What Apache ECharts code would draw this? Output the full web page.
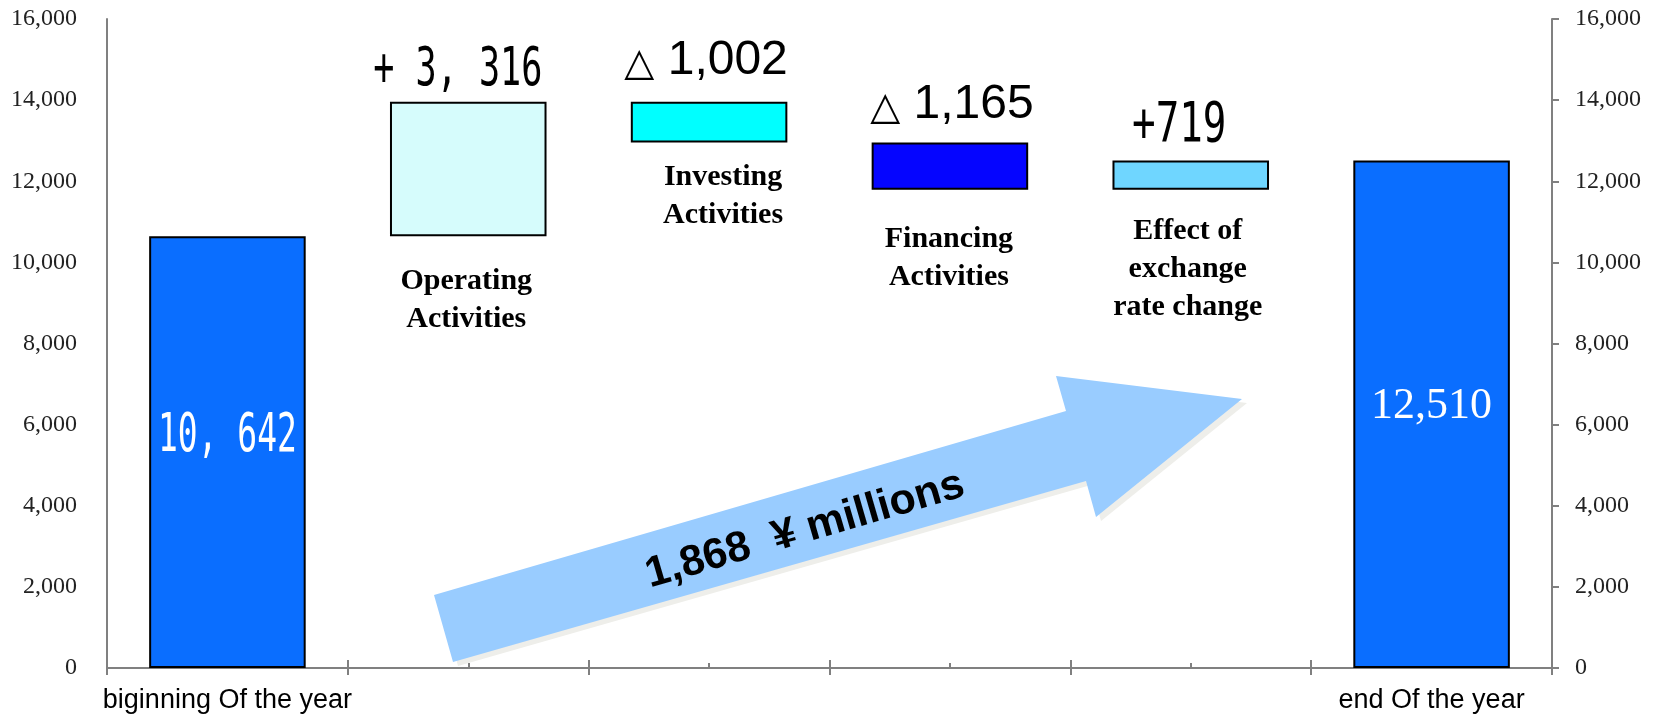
<!DOCTYPE html>
<html><head><meta charset="utf-8">
<script src="https://cdn.jsdelivr.net/npm/echarts@6/dist/echarts.min.js"></script>
<style>html,body{margin:0;padding:0;background:#fff}#c{width:1660px;height:715px}</style>
</head><body><div id="c"></div>
<script>
// ---- data ----
const categories = ['biginning Of the year', 'Operating Activities', 'Investing Activities', 'Financing Activities', 'Effect of exchange rate change', 'end Of the year'];
const tickLabels = ['biginning Of the year', '', '', '', '', 'end Of the year'];
const floatNames = ['', 'Operating\nActivities', 'Investing\nActivities', 'Financing\nActivities', 'Effect of\nexchange\nrate change', ''];
const openingBalance = 10642;
const changes = [3316, -1002, -1165, 719];
const closingBalance = 12510;
const valueLabels = ['10, 642', '+ 3, 316', '△ 1,002', '△ 1,165', '+719', '12,510'];
const netChangeLabel = '1,868  ¥ millions';
const yMin = 0, yMax = 16000, yStep = 2000;

// ---- derived waterfall (base + visible segment) ----
const baseVals = [0], segVals = [openingBalance], topVals = [openingBalance];
let run = openingBalance;
changes.forEach(c => {
  baseVals.push(c >= 0 ? run : run + c);
  segVals.push(Math.abs(c));
  topVals.push(c >= 0 ? run + c : run);
  run += c;
});
baseVals.push(0); segVals.push(closingBalance); topVals.push(closingBalance);

// ---- styles ----
const MONO = "'DejaVu Sans Mono','Liberation Mono',monospace";
const SERIF = "'Liberation Serif','Times New Roman',serif";
const SANS = "'Liberation Sans',Arial,sans-serif";
const barColors = ['#0A6EFF', '#D6FCFC', '#00FFFF', '#0505FF', '#6FD6FF', '#0A6EFF'];
// labels drawn as narrow (horizontally squeezed) monospace text
const narrowLabelStyles = {
  0: {dx: 0, dy: 201, sx: 0.61, fontSize: 54, color: '#fff'},
  1: {dx: -10.5, dy: -31, sx: 0.65, fontSize: 54, color: '#000'},
  4: {dx: -11.5, dy: -34, sx: 0.70, fontSize: 56, color: '#000'}
};
const valueLabelStyles = {
  2: {position: 'top', distance: 16, offset: [-3, 0]},
  3: {position: 'top', distance: 13, offset: [2, 0]},
  5: {position: 'inside', offset: [0, -8], color: '#fff', fontFamily: SERIF, fontSize: 44}
};
const nameLabelStyles = {
  1: {distance: 26, offset: [-2, 0]},
  2: {distance: 16, offset: [14, 0]},
  3: {distance: 31, offset: [-1, 0]},
  4: {distance: 23, offset: [-3, 0]}
};
const axisGray = '#808080';

const chart = echarts.init(document.getElementById('c'), null, {renderer: 'canvas'});

const baseData = baseVals.map((v, i) => ({
  value: v,
  label: nameLabelStyles[i] ? {
    show: true, position: 'insideTop', distance: nameLabelStyles[i].distance, offset: nameLabelStyles[i].offset,
    formatter: floatNames[i], color: '#000', fontFamily: SERIF, fontWeight: 'bold', fontSize: 30, lineHeight: 38, align: 'center'
  } : {show: false}
}));

function deltaText(s) { return s.replace(/^△(.*)$/, '{t|△}{n|$1}'); }

const segData = segVals.map((v, i) => {
  const st = valueLabelStyles[i];
  let label = {show: false};
  if (st && i === 5) {
    label = Object.assign({show: true, formatter: valueLabels[i]}, st);
  } else if (st) {
    label = Object.assign({
      show: true, formatter: deltaText(valueLabels[i]), color: '#000',
      rich: {
        t: {fontSize: 39, fontFamily: "'DejaVu Sans',sans-serif", color: '#000', verticalAlign: 'middle', lineHeight: 50, padding: [8, 0, 0, 0]},
        n: {fontSize: 48, fontFamily: SANS, color: '#000', verticalAlign: 'middle', lineHeight: 50}
      }
    }, st);
  }
  return {value: v, itemStyle: {color: barColors[i]}, label};
});

const narrowData = Object.keys(narrowLabelStyles).map(k => [Number(k), topVals[Number(k)]]);

const xAxisCommon = {type: 'category', data: tickLabels, position: 'bottom', boundaryGap: true};

chart.setOption({
  backgroundColor: '#fff',
  animation: false,
  grid: {left: 107, right: 108, top: 19, bottom: 47, containLabel: false, outerBoundsMode: 'none'},
  xAxis: [
    Object.assign({}, xAxisCommon, {
      axisLine: {show: true, lineStyle: {color: axisGray, width: 2}},
      axisTick: {show: true, inside: false, length: 7, lineStyle: {color: axisGray, width: 2}},
      axisLabel: {show: true, interval: 0, margin: 19, color: '#000', fontFamily: SANS, fontSize: 27}
    }),
    Object.assign({}, xAxisCommon, {
      axisLine: {show: false},
      axisTick: {show: true, inside: true, length: 8, lineStyle: {color: axisGray, width: 2}},
      axisLabel: {show: false}
    }),
    Object.assign({}, xAxisCommon, {
      axisLine: {show: false},
      axisTick: {show: true, inside: true, alignWithLabel: true, length: 5, lineStyle: {color: axisGray, width: 2}},
      axisLabel: {show: false}
    })
  ],
  yAxis: [
    {type: 'value', position: 'left', min: yMin, max: yMax, interval: yStep,
     axisLine: {show: true, lineStyle: {color: axisGray, width: 2}},
     axisTick: {show: false}, splitLine: {show: false},
     axisLabel: {margin: 30, color: '#222', fontFamily: SERIF, fontSize: 24}},
    {type: 'value', position: 'right', min: yMin, max: yMax, interval: yStep,
     axisLine: {show: true, lineStyle: {color: axisGray, width: 2}},
     axisTick: {show: true, inside: false, length: 7, lineStyle: {color: axisGray, width: 2}},
     splitLine: {show: false},
     axisLabel: {margin: 23, color: '#222', fontFamily: SERIF, fontSize: 24}}
  ],
  series: [
    {name: 'base', type: 'bar', stack: 'w', xAxisIndex: 0, yAxisIndex: 0, barWidth: '65%',
     itemStyle: {color: 'rgba(0,0,0,0)', borderWidth: 0}, silent: true, data: baseData, z: 3},
    {name: 'cash', type: 'bar', stack: 'w', xAxisIndex: 0, yAxisIndex: 0, barWidth: '65%',
     itemStyle: {borderColor: '#000', borderWidth: 2}, data: segData, z: 2},
    {name: 'narrowLabels', type: 'custom', xAxisIndex: 0, yAxisIndex: 0, z: 6, silent: true,
     data: narrowData,
     renderItem: function (params, api) {
       const idx = api.value(0);
       const p = api.coord([idx, api.value(1)]);
       const st = narrowLabelStyles[idx];
       return {
         type: 'text', x: p[0] + st.dx, y: p[1] + st.dy, scaleX: st.sx, scaleY: 1,
         style: {text: valueLabels[idx], fill: st.color, fontFamily: MONO, fontSize: st.fontSize,
                 textAlign: 'center', textVerticalAlign: 'middle', align: 'center', verticalAlign: 'middle'}
       };
     }}
  ],
  graphic: [
    {type: 'polygon', z: 1, silent: true,
     shape: {points: [[439, 599], [1071, 415], [1061, 380], [1247, 403], [1101, 521], [1091, 485], [458, 666]]},
     style: {fill: '#EEEEEA'}},
    {type: 'polygon', z: 2, silent: true,
     shape: {points: [[434, 595], [1066, 411], [1056, 376], [1242, 399], [1096, 517], [1086, 481], [453, 662]]},
     style: {fill: '#99CCFF'}},
    {type: 'text', z: 3, silent: true, x: 805, y: 530, rotation: 0.283,
     style: {text: netChangeLabel, fill: '#000', fontFamily: SANS, fontWeight: 'bold', fontSize: 43,
             textAlign: 'center', textVerticalAlign: 'middle', align: 'center', verticalAlign: 'middle'}}
  ]
});
</script>
</body></html>
